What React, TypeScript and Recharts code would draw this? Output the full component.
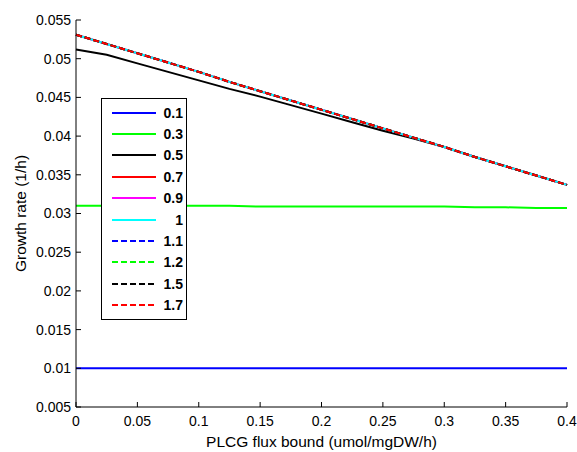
import { Legend, Line, LineChart, XAxis, YAxis } from "recharts";

// PLCG flux bound (x) sampled every 0.025
const fluxBound = [
  0, 0.025, 0.05, 0.075, 0.1, 0.125, 0.15, 0.175, 0.2, 0.225, 0.25, 0.275, 0.3, 0.325, 0.35, 0.375, 0.4,
];

const rate01 = [
  0.01, 0.01, 0.01, 0.01, 0.01, 0.01, 0.01, 0.01, 0.01, 0.01, 0.01, 0.01, 0.01, 0.01, 0.01, 0.01, 0.01,
];
const rate03 = [
  0.031, 0.031, 0.031, 0.031, 0.031, 0.031, 0.0309, 0.0309, 0.0309, 0.0309, 0.0309, 0.0309, 0.0309, 0.0308,
  0.0308, 0.0307, 0.0307,
];
const rate05 = [
  0.0512, 0.0505, 0.0494, 0.0483, 0.0472, 0.0461, 0.0451, 0.044, 0.0429, 0.0418, 0.0407, 0.0397, 0.0386,
  0.0373, 0.0361, 0.0349, 0.0337,
];
// 0.7 and above all sit on the same curve
const rateHigh = [
  0.0531, 0.0519, 0.0507, 0.0495, 0.0483, 0.047, 0.0458, 0.0446, 0.0434, 0.0422, 0.041, 0.0398, 0.0386,
  0.0373, 0.0361, 0.0349, 0.0337,
];

const xTicks = [0, 0.05, 0.1, 0.15, 0.2, 0.25, 0.3, 0.35, 0.4];
const yTicks = [0.005, 0.01, 0.015, 0.02, 0.025, 0.03, 0.035, 0.04, 0.045, 0.05, 0.055];

const series = [
  { key: "s01", label: "0.1", color: "#0000ff", dash: undefined, values: rate01 },
  { key: "s03", label: "0.3", color: "#00ff00", dash: undefined, values: rate03 },
  { key: "s05", label: "0.5", color: "#000000", dash: undefined, values: rate05 },
  { key: "s07", label: "0.7", color: "#ff0000", dash: undefined, values: rateHigh },
  { key: "s09", label: "0.9", color: "#ff00ff", dash: undefined, values: rateHigh },
  { key: "s10", label: "1", color: "#00ffff", dash: undefined, values: rateHigh },
  { key: "s11", label: "1.1", color: "#0000ff", dash: "6 3", values: rateHigh },
  { key: "s12", label: "1.2", color: "#00ff00", dash: "6 3", values: rateHigh },
  { key: "s15", label: "1.5", color: "#000000", dash: "6 3", values: rateHigh },
  { key: "s17", label: "1.7", color: "#ff0000", dash: "6 3", values: rateHigh },
];

const data = fluxBound.map((x, i) => {
  const row: Record<string, number> = { x };
  series.forEach((s) => {
    row[s.key] = s.values[i];
  });
  return row;
});

const font = "'Liberation Sans', Arial, Helvetica, sans-serif";
const fmt = (v: number) => String(Number(v.toFixed(3)));

function LegendBox() {
  return (
    <div
      style={{
        width: 84,
        height: 217,
        border: "1px solid #000",
        background: "#fff",
        fontFamily: font,
        fontWeight: "bold",
        fontSize: 14,
        paddingTop: 3,
        boxSizing: "content-box",
      }}
    >
      {series.map((s) => (
        <div key={s.key} style={{ display: "flex", alignItems: "center", height: 21.4 }}>
          <svg width={56} height={10}>
            <line x1={10} x2={54} y1={5} y2={5} stroke={s.color} strokeWidth={2} strokeDasharray={s.dash} />
          </svg>
          <span style={{ width: 25, textAlign: "right", lineHeight: "14px" }}>{s.label}</span>
        </div>
      ))}
    </div>
  );
}

export default function App() {
  return (
    <div style={{ position: "absolute", left: 0, top: 0, width: 577, height: 452, background: "#fff" }}>
      <LineChart width={577} height={452} data={data} margin={{ top: 20, right: 10, left: 0, bottom: 0 }}>
        <XAxis
          dataKey="x"
          type="number"
          domain={[0, 0.4]}
          ticks={xTicks}
          tickFormatter={fmt}
          height={45}
          tickSize={-5}
          tickMargin={14}
          interval={0}
          stroke="#000"
          tick={{ fill: "#000", fontSize: 14, fontFamily: font }}
          label={{ value: "PLCG flux bound (umol/mgDW/h)", position: "center", dy: 12, fill: "#000", fontSize: 15.5, fontFamily: font }}
        />
        <XAxis
          xAxisId="top"
          dataKey="x"
          type="number"
          orientation="top"
          domain={[0, 0.4]}
          ticks={xTicks}
          height={0}
          tickSize={-5}
          tick={false}
          interval={0}
          stroke="#000"
        />
        <YAxis
          type="number"
          domain={[0.005, 0.055]}
          ticks={yTicks}
          tickFormatter={fmt}
          width={76}
          tickSize={-5}
          tickMargin={10}
          interval={0}
          stroke="#000"
          tick={{ fill: "#000", fontSize: 14, fontFamily: font }}
          label={{ value: "Growth rate (1/h)", angle: -90, position: "center", dx: -18, fill: "#000", fontSize: 15.5, fontFamily: font }}
        />
        <YAxis
          yAxisId="right"
          type="number"
          orientation="right"
          domain={[0.005, 0.055]}
          ticks={yTicks}
          width={0}
          tickSize={-5}
          tick={false}
          interval={0}
          stroke="#000"
        />
        <Legend
          layout="vertical"
          align="center"
          verticalAlign="middle"
          wrapperStyle={{ left: 101, top: 98, width: 86 }}
          content={() => <LegendBox />}
        />
        {series.map((s) => (
          <Line
            key={s.key}
            type="linear"
            dataKey={s.key}
            stroke={s.color}
            strokeWidth={2}
            strokeDasharray={s.dash}
            dot={false}
            activeDot={false}
            isAnimationActive={false}
          />
        ))}
      </LineChart>
    </div>
  );
}
